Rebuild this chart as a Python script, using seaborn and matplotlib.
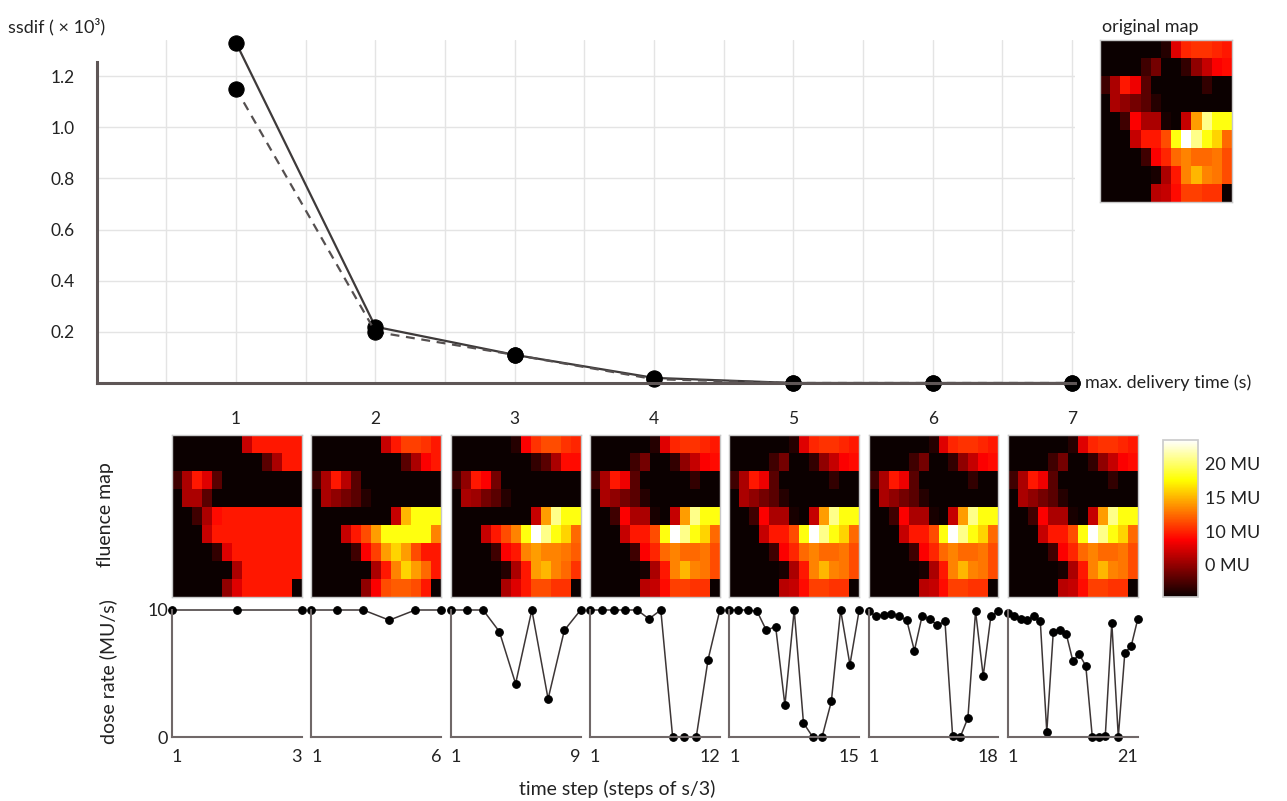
import numpy as np
import matplotlib
matplotlib.use('Agg')
import matplotlib.pyplot as plt
import seaborn as sns

sns.set_theme(style='white')
plt.rcParams['font.family'] = ['Lato', 'DejaVu Sans']

# 上图：ssdif 随最大照射时间的变化
delivery_time = [1, 2, 3, 4, 5, 6, 7]
ssdif_solid = [1.33, 0.22, 0.11, 0.02, 0.0, 0.0, 0.0]
ssdif_dashed = [1.15, 0.20, 0.11, 0.015, 0.0, 0.0, 0.0]
ssdif_ticks = [0.2, 0.4, 0.6, 0.8, 1.0, 1.2]

# 注量图 (9 行 x 13 列, 单位 MU)
fluence_orig = [
    [0, 0, 0, 0, 0, 0, 1, 8, 10.5, 11, 11, 10.5, 10],
    [0, 0, 0, 0, 2, 4, 0, 0, 1.5, 5, 7, 9, 9.5],
    [2, 6, 10, 8.5, 3, 0, 0, 0, 0, 0, 1.5, 0, 0],
    [0, 6, 5, 4, 3, 1, 0, 0, 0, 0, 0, 0, 0],
    [0, 0, 2, 9, 6, 6, 0.5, 0, 7, 15, 22, 19, 19],
    [0, 0, 0, 7, 10, 10, 12, 19, 25, 22, 19, 17, 13],
    [0, 0, 0, 0, 2, 9, 10.5, 13, 14, 13, 13, 13.5, 12],
    [0, 0, 0, 0, 0, 0.5, 6, 10, 14, 16, 14, 13.5, 12],
    [0, 0, 0, 0, 0, 6.5, 7, 9.5, 11.5, 11.5, 11, 11, 0],
]
fluence_t1 = [
    [0, 0, 0, 0, 0, 0, 0, 7, 10, 10, 10, 10, 10],
    [0, 0, 0, 0, 0, 0, 0, 0, 0, 3, 6, 10, 10],
    [2, 6, 10, 8, 3, 0, 0, 0, 0, 0, 0, 0, 0],
    [0, 6, 6, 3, 0, 0, 0, 0, 0, 0, 0, 0, 0],
    [0, 0, 2, 6, 9.5, 10, 10, 10, 10, 10, 10, 10, 10],
    [0, 0, 0, 7, 10, 10, 10, 10, 10, 10, 10, 10, 10],
    [0, 0, 0, 0, 1.5, 8, 10, 10, 10, 10, 10, 10, 10],
    [0, 0, 0, 0, 0, 0, 6, 10, 10, 10, 10, 10, 10],
    [0, 0, 0, 0, 0, 5, 8, 10, 10, 10, 10, 10, 0],
]
fluence_t2 = [
    [0, 0, 0, 0, 0, 0, 0, 7, 10, 11.5, 11.5, 11, 10],
    [0, 0, 0, 0, 0, 0, 0, 0, 0, 3, 6, 9, 10],
    [2, 6, 10, 6.5, 3, 0, 0, 0, 0, 0, 0, 0, 0],
    [0, 6, 5, 4, 3, 1, 0, 0, 0, 0, 0, 0, 0],
    [0, 0, 0, 0, 0, 0, 0, 0, 7, 16, 19, 19, 19],
    [0, 0, 0, 7, 10, 12, 15, 19, 19, 19, 19, 19, 14],
    [0, 0, 0, 0, 2, 9, 11.5, 15, 17, 15, 12, 10, 10],
    [0, 0, 0, 0, 0, 0, 6, 10, 14, 17, 15, 13, 10],
    [0, 0, 0, 0, 0, 5, 9, 12, 12.5, 12.5, 12, 10, 0],
]
fluence_t3 = [
    [0, 0, 0, 0, 0, 0, 1, 9, 11, 12, 12, 11, 10.5],
    [0, 0, 0, 0, 0, 0, 0, 0, 1.5, 3, 6, 9.5, 9.5],
    [2, 5, 10, 9, 4, 0, 0, 0, 0, 0, 0, 0, 0],
    [0, 6, 5.5, 4, 3, 1, 0, 0, 0, 0, 0, 0, 0],
    [0, 0, 0, 0, 0, 0, 0, 0, 7, 15, 22, 19, 19],
    [0, 0, 0, 7, 10, 12, 14, 19, 25, 22, 19, 17, 13],
    [0, 0, 0, 0, 2, 9, 10, 14, 15, 14, 14, 13.5, 12.5],
    [0, 0, 0, 0, 0, 1, 6, 10, 15, 16, 14, 13, 11],
    [0, 0, 0, 0, 0, 6, 8, 10, 12, 12, 11, 11, 0],
]
# 4-7 秒的结果与原图几乎一致
fluence_maps = [fluence_t1, fluence_t2, fluence_t3,
                fluence_orig, fluence_orig, fluence_orig, fluence_orig]

cbar_labels = ['0 MU', '10 MU', '15 MU', '20 MU']
cbar_ticks = [5.25, 10.5, 15.9, 21.2]

# 剂量率 (MU/s)
dose_rates = [
    [10, 10, 10],
    [10, 10, 10, 9.2, 10, 10],
    [10, 10, 10, 8.3, 4.2, 10, 3.0, 8.4, 10],
    [10, 10, 10, 10, 10, 9.3, 10, 0, 0, 0, 6.1, 10],
    [10, 10, 10, 9.9, 8.4, 8.7, 2.5, 10, 1.1, 0, 0, 2.8, 10, 5.7, 10],
    [9.9, 9.5, 9.6, 9.7, 9.5, 9.2, 6.8, 9.5, 9.3, 8.8, 9.1, 0.1, 0, 1.5,
     9.9, 4.8, 9.5, 9.9],
    [9.8, 9.5, 9.3, 9.2, 9.5, 9.1, 0.4, 8.3, 8.4, 8.1, 6.0, 6.5, 5.6, 0, 0,
     0.1, 9.0, 0, 6.6, 7.2, 9.3],
]

W, H = 1287, 801
fig = plt.figure(figsize=(W / 100, H / 100), dpi=100)


def px_axes(x0, y0, x1, y1):
    return fig.add_axes([x0 / W, 1 - y1 / H, (x1 - x0) / W, (y1 - y0) / H])


spine_col = '#5e5656'
grid_col = '#e4e4e4'

# ---- 上图
ax = px_axes(96.7, 40, 1074.8, 383)
sns.lineplot(x=delivery_time, y=ssdif_solid, ax=ax, color='#3e3a3a', lw=1.6,
             marker='o', markersize=11, markerfacecolor='black',
             markeredgecolor='black')
sns.lineplot(x=delivery_time, y=ssdif_dashed, ax=ax, color='#555050', lw=1.6,
             linestyle=(0, (4, 3)), marker='o', markersize=11,
             markerfacecolor='black', markeredgecolor='black')
for ln in ax.lines:
    ln.set_clip_on(False)
ax.set_xlim(0, 7.02)
ax.set_ylim(0, 1.341)
ax.set_xticks(delivery_time)
ax.set_xticks(np.arange(0.5, 7.01, 0.5), minor=True)
ax.set_yticks(ssdif_ticks)
ax.set_yticklabels([f'{v:.1f}' for v in ssdif_ticks])
ax.grid(True, which='both', axis='x', color=grid_col, lw=1)
ax.grid(True, which='major', axis='y', color=grid_col, lw=1)
ax.tick_params(axis='both', which='both', length=0, labelsize=12.5,
               colors='#222222')
ax.tick_params(axis='y', pad=16)
ax.tick_params(axis='x', pad=20)
for s in ['top', 'right']:
    ax.spines[s].set_visible(False)
for s in ['left', 'bottom']:
    ax.spines[s].set_color(spine_col)
    ax.spines[s].set_linewidth(2.2)
ax.spines['left'].set_bounds(0, 1.255)
ax.set_xlabel('')
ax.set_ylabel('')
fig.text(1085 / W, 1 - 383 / H, 'max. delivery time (s)', ha='left',
         va='center', fontsize=13, color='#222222')
fig.text(8 / W, 1 - 27 / H, 'ssdif ( × 10³)', ha='left', va='center',
         fontsize=13, color='#222222')

# ---- 原始注量图
axo = px_axes(1100, 40, 1232, 202)
sns.heatmap(np.array(fluence_orig), ax=axo, cmap='hot', vmin=0, vmax=25,
            cbar=False, xticklabels=False, yticklabels=False)
for s in axo.spines.values():
    s.set_visible(True)
    s.set_color('#c8c8c8')
    s.set_linewidth(1)
fig.text(1102 / W, 1 - 27 / H, 'original map', ha='left', va='center',
         fontsize=13, color='#222222')

# ---- 每个时间的注量图与剂量率
pitch = 139.3
hm = None
for i, (fmap, dose) in enumerate(zip(fluence_maps, dose_rates)):
    left = 172 + pitch * i
    axm = px_axes(left, 435, left + 130, 597)
    sns.heatmap(np.array(fmap), ax=axm, cmap='hot', vmin=0, vmax=25,
                cbar=False, xticklabels=False, yticklabels=False)
    for s in axm.spines.values():
        s.set_visible(True)
        s.set_color('#c8c8c8')
        s.set_linewidth(1)
    hm = axm

    axd = px_axes(left, 610, left + 130, 737)
    n = len(dose)
    steps = list(range(1, n + 1))
    sns.lineplot(x=steps, y=dose, ax=axd, color='#3d3636', lw=1.1,
                 marker='o', markersize=5.5, markerfacecolor='black',
                 markeredgecolor='black')
    for ln in axd.lines:
        ln.set_clip_on(False)
    axd.set_xlim(1, n)
    axd.set_ylim(0, 10)
    axd.set_xticks([1, n])
    axd.set_xticklabels(['1', str(n)])
    xt = axd.get_xticklabels()
    xt[0].set_ha('left')
    xt[1].set_ha('right')
    if i == 0:
        axd.set_yticks([0, 10])
        axd.set_yticklabels(['0', '10'])
    else:
        axd.set_yticks([])
    axd.tick_params(axis='both', length=0, labelsize=13, colors='#222222')
    axd.tick_params(axis='x', pad=9)
    axd.tick_params(axis='y', pad=3)
    for s in ['top', 'right']:
        axd.spines[s].set_visible(False)
    for s in ['left', 'bottom']:
        axd.spines[s].set_color('#706868')
        axd.spines[s].set_linewidth(1.5)
    axd.set_xlabel('')
    axd.set_ylabel('')

# ---- 颜色条
cax = px_axes(1163, 440, 1198, 597)
cb = fig.colorbar(hm.collections[0], cax=cax)
cb.set_ticks(cbar_ticks)
cb.set_ticklabels(cbar_labels)
cb.ax.tick_params(length=0, labelsize=13, pad=5, colors='#222222')
cb.outline.set_edgecolor('#cccccc')

fig.text(105 / W, 1 - 515 / H, 'fluence map', rotation=90, ha='center',
         va='center', fontsize=14, color='#222222')
fig.text(108 / W, 1 - 672 / H, 'dose rate (MU/s)', rotation=90, ha='center',
         va='center', fontsize=14, color='#222222')
fig.text(617 / W, 1 - 789 / H, 'time step (steps of s/3)', ha='center',
         va='center', fontsize=14, color='#222222')

fig.savefig('out.png', dpi=100)
